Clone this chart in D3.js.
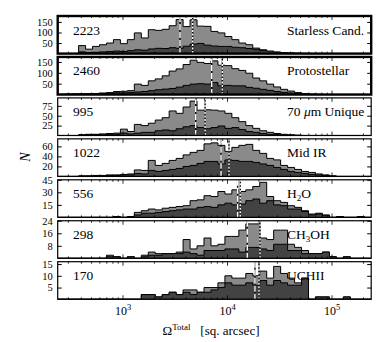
<!DOCTYPE html>
<html>
<head>
<meta charset="utf-8">
<script src="https://cdn.jsdelivr.net/npm/d3@7"></script>
<style>
body { margin: 0; background: #fff; }
text { font-family: "Liberation Serif", "DejaVu Serif", serif; fill: #000; }
</style>
</head>
<body>
<svg id="chart" width="390" height="342"></svg>
<script>
// panel order, top to bottom
var panelNames = ["Starless Cand.", "Protostellar", "70 um Unique", "Mid IR", "H2O", "CH3OH", "UCHII"]
var panelTotals = ["2223", "2460", "995", "1022", "556", "298", "170"]

// y limits and tick values
var yMax = [178, 173, 95, 75, 45, 24, 16]
var yTicks = [[50, 100, 150], [50, 100, 150], [25, 50, 75], [20, 40, 60], [15, 30, 45], [8, 16, 24], [5, 10, 15]]

// log-spaced bins: 45 bins, 15 per decade, starting at 10^2.375
var binLogStart = 2.375
var binsPerDecade = 15

// counts per bin, all sources (light) and the subset (dark)
var allStarless = [0,0,0,38,21,34,42,50,66,47, 66,98,74,113,110,115,132,161,128,160, 130,129,105,98,81,66,50,42,26,18, 10,5,3,2,1,0,0,0,0,0, 0,0,0,0,0]
var subStarless = [0,0,0,8,5,6,8,10,12,10, 14,18,16,22,25,24,28,25,35,45, 48,40,36,34,34,30,28,24,20,15, 12,8,5,3,2,1,0,0,0,0, 0,0,0,0,0]
var allProto = [1,2,3,3,4,5,7,9,14,15, 18,48,42,63,72,86,108,118,138,158, 148,143,155,135,133,119,111,98,76,63, 48,35,24,16,9,4,2,1,0,0, 0,0,0,0,0]
var subProto = [1,2,2,3,3,4,5,6,8,8, 10,12,14,18,22,25,28,34,42,48, 50,48,55,40,42,40,40,33,29,24, 19,14,10,7,4,2,1,0,0,0, 0,0,0,0,0]
var all70um = [0,0,0,2,3,3,4,5,6,16, 10,28,25,31,39,45,62,56,72,87, 64,65,64,62,56,45,35,25,18,12, 8,5,3,2,1,0,0,0,0,0, 0,0,0,0,0]
var sub70um = [0,0,0,1,2,2,2,3,3,6, 4,6,8,8,12,14,12,17,22,25, 20,17,20,24,18,20,15,10,8,5, 3,2,1,0,0,0,0,0,0,0, 0,0,0,0,0]
var allMidIR = [0,0,0,1,1,2,2,3,3,4, 5,13,12,32,22,26,32,36,43,48, 52,65,67,62,50,58,62,64,52,46, 36,33,22,18,14,10,8,5,3,1, 0,0,0,0,0]
var subMidIR = [0,0,0,1,1,1,1,2,2,3, 3,6,5,12,10,12,14,16,20,22, 26,30,30,25,33,32,30,30,28,25, 22,18,14,10,8,6,4,3,2,1, 0,0,0,0,0]
var allH2O = [0,0,0,0,0,0,0,0,1,0, 1,6,8,10,9,11,12,13,14,20, 21,26,25,31,28,33,31,33,37,42, 25,20,18,14,12,8,4,5,3,0, 1,0,0,1,0]
var subH2O = [0,0,0,0,0,0,0,0,1,0, 1,3,5,5,6,7,8,9,10,10, 12,13,12,15,17,15,16,20,22,17, 20,15,14,10,10,7,3,4,2,0, 1,0,0,1,0]
var allCH3OH = [0,0,0,0,0,0,0,2,1,0, 1,0,2,4,3,3,3,4,12,6, 8,13,8,9,14,14,18,22,22,13, 12,18,18,9,7,5,3,3,4,1, 0,1,0,0,0]
var subCH3OH = [0,0,0,0,0,0,0,1,1,0, 1,0,1,2,2,3,3,3,4,3, 2,5,5,5,6,6,4,7,7,6, 5,9,9,5,5,3,3,3,4,1, 0,1,0,0,0]
var allUCHII = [0,0,0,0,0,0,0,0,0,0, 0,0,2,2,1,2,3,2,4,4, 3,5,5,7,10,9,9,11,10,12, 9,14,11,9,7,9,0,1,1,0, 0,1,0,0,0]
var subUCHII = [0,0,0,0,0,0,0,0,0,0, 0,0,2,2,1,2,3,2,3,2, 3,3,4,5,7,6,6,7,6,8, 6,8,7,6,6,9,0,1,1,0, 0,1,0,0,0]

var allCounts = [allStarless, allProto, all70um, allMidIR, allH2O, allCH3OH, allUCHII]
var subCounts = [subStarless, subProto, sub70um, subMidIR, subH2O, subCH3OH, subUCHII]

// the two vertical lines in each panel (dashed and dotted)
var dashedAt = [3510, 7060, 4960, 8670, 12500, 15450, 18300]
var dottedAt = [4640, 8920, 6100, 10330, 13240, 20450, 20000]

var svg = d3.select("#chart")

var x = d3.scaleLog()
  .domain([Math.pow(10, 2.375), Math.pow(10, 5.375)])
  .range([57.7, 371.2])

var band = d3.scaleBand()
  .domain(d3.range(panelNames.length))
  .range([16, 299.3])
  .paddingInner(0.082)

var majorX = [1e3, 1e4, 1e5]
var minorX = []
;[100, 1000, 10000, 100000].forEach(function(dec) {
  for (var m = 2; m <= 9; m++) {
    var v = dec * m
    if (v >= x.domain()[0] && v <= x.domain()[1]) minorX.push(v)
  }
})

// turn bin counts into step points
function binPoints(counts) {
  var pts = counts.map(function(n, i) {
    return { x: Math.pow(10, binLogStart + i / binsPerDecade), n: n }
  })
  pts.push({ x: Math.pow(10, binLogStart + counts.length / binsPerDecade), n: 0 })
  return pts
}

// labels with sub / italic parts
function writeLabel(t, name) {
  if (name == "H2O") {
    t.append("tspan").text("H")
    t.append("tspan").attr("font-size", "9px").attr("dy", 3).text("2")
    t.append("tspan").attr("dy", -3).text("O")
  } else if (name == "CH3OH") {
    t.append("tspan").text("CH")
    t.append("tspan").attr("font-size", "9px").attr("dy", 3).text("3")
    t.append("tspan").attr("dy", -3).text("OH")
  } else if (name == "70 um Unique") {
    t.append("tspan").text("70 ")
    t.append("tspan").attr("font-style", "italic").text("\u03bc")
    t.append("tspan").text("m Unique")
  } else {
    t.text(name)
  }
}

panelNames.forEach(function(name, p) {
  var top = band(p)
  var h = band.bandwidth()
  var y = d3.scaleLinear().domain([0, yMax[p]]).range([top + h, top])
  var g = svg.append("g")

  g.append("clipPath").attr("id", "clip" + p)
    .append("rect")
    .attr("x", x.range()[0]).attr("y", top)
    .attr("width", x.range()[1] - x.range()[0]).attr("height", h)

  var area = d3.area()
    .curve(d3.curveStepAfter)
    .x(function(d) { return x(d.x) })
    .y0(y(0))
    .y1(function(d) { return y(d.n) })

  var hist = g.append("g").attr("clip-path", "url(#clip" + p + ")")

  hist.append("path")
    .attr("d", area(binPoints(allCounts[p])))
    .style("fill", "#8a8a8a")
    .style("stroke", "#000")
    .style("stroke-width", 1)

  hist.append("path")
    .attr("d", area(binPoints(subCounts[p])))
    .style("fill", "#434343")
    .style("stroke", "#000")
    .style("stroke-width", 1)

  // vertical marker lines: black underneath, white pattern on top
  ;[[dashedAt[p], "6,2"], [dottedAt[p], "2,1.5"]].forEach(function(m) {
    hist.append("line")
      .attr("x1", x(m[0])).attr("x2", x(m[0]))
      .attr("y1", top).attr("y2", top + h)
      .style("stroke", "#000").style("stroke-width", 1.4)
    hist.append("line")
      .attr("x1", x(m[0])).attr("x2", x(m[0]))
      .attr("y1", top).attr("y2", top + h)
      .style("stroke", "#fff").style("stroke-width", 1.4)
      .style("stroke-dasharray", m[1])
  })

  // x ticks, inward on top and bottom
  var ticks = g.append("g")
  majorX.forEach(function(v) {
    ticks.append("line").attr("x1", x(v)).attr("x2", x(v)).attr("y1", top + h).attr("y2", top + h - 4)
    ticks.append("line").attr("x1", x(v)).attr("x2", x(v)).attr("y1", top).attr("y2", top + 4)
  })
  minorX.forEach(function(v) {
    ticks.append("line").attr("x1", x(v)).attr("x2", x(v)).attr("y1", top + h).attr("y2", top + h - 2)
    ticks.append("line").attr("x1", x(v)).attr("x2", x(v)).attr("y1", top).attr("y2", top + 2)
  })
  ticks.selectAll("line").style("stroke", "#000").style("stroke-width", 0.8)

  // y axes, ticks inward on both sides
  var leftAxis = g.append("g")
    .attr("transform", "translate(" + x.range()[0] + ",0)")
    .call(d3.axisLeft(y).tickValues(yTicks[p]).tickSizeInner(-4).tickSizeOuter(0).tickPadding(5))
  leftAxis.select(".domain").remove()
  leftAxis.selectAll("text")
    .attr("x", -5)
    .style("font-family", "'Liberation Serif', serif")
    .style("font-size", "10.5px")

  var rightAxis = g.append("g")
    .attr("transform", "translate(" + x.range()[1] + ",0)")
    .call(d3.axisRight(y).tickValues(yTicks[p]).tickSizeInner(-4).tickSizeOuter(0).tickFormat(""))
  rightAxis.select(".domain").remove()

  // frame: first two panels are drawn heavier
  g.append("rect")
    .attr("x", x.range()[0]).attr("y", top)
    .attr("width", x.range()[1] - x.range()[0]).attr("height", h)
    .style("fill", "none")
    .style("stroke", "#000")
    .style("stroke-width", p < 2 ? 2.4 : 1.2)

  g.append("text")
    .attr("x", 73).attr("y", top + 18.5)
    .style("font-size", "13.5px")
    .text(panelTotals[p])

  var lab = g.append("text")
    .attr("x", 287).attr("y", top + 18.5)
    .style("font-size", "13.5px")
  writeLabel(lab, name)

  // tick labels only under the last panel
  if (p == panelNames.length - 1) {
    majorX.forEach(function(v) {
      var t = g.append("text")
        .attr("x", x(v)).attr("y", top + h + 16)
        .attr("text-anchor", "middle")
        .style("font-size", "12px")
      t.append("tspan").text("10")
      t.append("tspan").attr("dy", -5).style("font-size", "8.5px").text(Math.round(Math.log10(v)))
    })
  }
})

// axis titles
svg.append("text")
  .attr("transform", "translate(30,157) rotate(-90)")
  .attr("text-anchor", "middle")
  .style("font-size", "14px")
  .style("font-style", "italic")
  .text("N")

var xTitle = svg.append("text")
  .attr("x", 211).attr("y", 335)
  .attr("text-anchor", "middle")
  .style("font-size", "13px")
xTitle.append("tspan").text("\u03a9")
xTitle.append("tspan").attr("dy", -5).style("font-size", "9px").text("Total")
xTitle.append("tspan").attr("dy", 5).text("\u2002 [sq. arcsec]")
</script>
</body>
</html>
